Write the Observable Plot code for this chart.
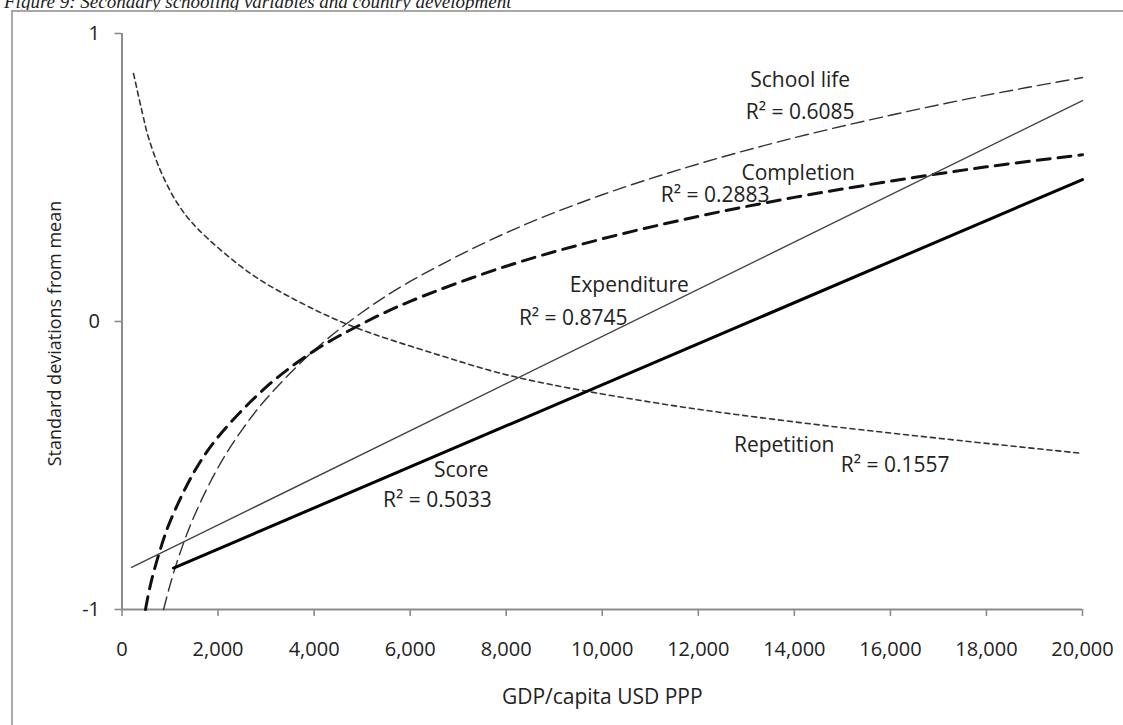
<!DOCTYPE html>
<html>
<head>
<meta charset="utf-8">
<script src="https://cdn.jsdelivr.net/npm/d3@7"></script>
<script src="https://cdn.jsdelivr.net/npm/@observablehq/plot@0.6"></script>
<style>
  html, body { margin: 0; padding: 0; background: #fff; }
  body { position: relative; width: 1123px; height: 725px; overflow: hidden; }
  #title { position: absolute; left: 4px; top: -8px; font-family: "Liberation Serif", "DejaVu Serif", serif; font-style: italic; font-size: 19px; line-height: 19px; color: #222; white-space: nowrap; }
  #frame { position: absolute; left: 11px; top: 10px; width: 1300px; height: 900px; border: 2px solid #a8a8a8; box-sizing: border-box; }
  #chart { position: absolute; left: 0; top: 0; }
</style>
</head>
<body>
<div id="title">Figure 9: Secondary schooling variables and country development</div>
<div id="frame"></div>
<div id="chart"></div>
<script>
// ---- data ----
const xTicks = [0, 2000, 4000, 6000, 8000, 10000, 12000, 14000, 16000, 18000, 20000];
const yTicks = [-1, 0, 1];

const schoolLifeGdp = [866, 1000, 1200, 1500, 2000, 2500, 3000, 4000, 5000, 6000, 8000, 10000, 12000, 14000, 16000, 18000, 20000];
const schoolLifeVal = [-1.0, -0.915, -0.808, -0.677, -0.507, -0.376, -0.269, -0.100, 0.032, 0.139, 0.308, 0.440, 0.547, 0.638, 0.716, 0.786, 0.847];

const completionGdp = [489, 600, 800, 1000, 1500, 2000, 3000, 4000, 5000, 6000, 8000, 10000, 12000, 14000, 16000, 18000, 20000];
const completionVal = [-1.0, -0.909, -0.790, -0.695, -0.523, -0.401, -0.228, -0.102, -0.008, 0.070, 0.192, 0.287, 0.365, 0.431, 0.487, 0.537, 0.579];

const repetitionGdp = [240, 427, 551, 801, 1155, 1571, 2674, 3715, 4756, 6628, 8230, 11207, 14120, 17034, 20000];
const repetitionVal = [0.861, 0.722, 0.639, 0.524, 0.410, 0.323, 0.167, 0.066, -0.014, -0.118, -0.194, -0.285, -0.351, -0.406, -0.458];

const expenditureGdp = [200, 20000];
const expenditureVal = [-0.854, 0.767];

const scoreGdp = [1072, 20000];
const scoreVal = [-0.856, 0.493];

const labelText = ["School life", "R² = 0.6085", "Completion", "R² = 0.2883", "Expenditure", "R² = 0.8745", "Score", "R² = 0.5033", "Repetition", "R² = 0.1557"];
const labelGdp  = [14121, 14121, 14080, 12352, 10562, 9396, 7066, 6566, 13788, 16098];
const labelVal  = [0.837, 0.726, 0.514, 0.438, 0.125, 0.010, -0.517, -0.622, -0.431, -0.500];

const xTitle = "GDP/capita USD PPP";
const yTitle = "Standard deviations from mean";

// ---- build tables ----
const toRows = (xs, ys) => xs.map((x, i) => ({x, y: ys[i]}));
const schoolLife = toRows(schoolLifeGdp, schoolLifeVal);
const completion = toRows(completionGdp, completionVal);
const repetition = toRows(repetitionGdp, repetitionVal);
const expenditure = toRows(expenditureGdp, expenditureVal);
const score = toRows(scoreGdp, scoreVal);
const labels = labelText.map((t, i) => ({t, x: labelGdp[i], y: labelVal[i]}));

const axisColor = "#8c8c8c";
const textColor = "#222";
const FS = 20;

const chart = Plot.plot({
  width: 1123,
  height: 725,
  marginLeft: 121.5,
  marginRight: 41,
  marginTop: 33,
  marginBottom: 116,
  style: {background: "transparent", fontFamily: "'Open Sans', 'Noto Sans', sans-serif", fontSize: FS + "px", color: textColor, overflow: "visible"},
  x: {domain: [0, 20000]},
  y: {domain: [-1, 1]},
  marks: [
    Plot.ruleX([0], {stroke: axisColor, strokeWidth: 2}),
    Plot.ruleY([-1], {stroke: axisColor, strokeWidth: 2}),
    Plot.axisX({ticks: xTicks, tickFormat: d3.format(","), tickSize: 7, tickPadding: 25, stroke: axisColor, strokeWidth: 1.6, fill: textColor, fontSize: FS, label: null}),
    Plot.axisY({ticks: yTicks, tickFormat: d => d3.format("d")(d).replace("−", "-"), tickSize: 7, tickPadding: 15, stroke: axisColor, strokeWidth: 1.6, fill: textColor, fontSize: FS, label: null}),
    Plot.line(repetition, {x: "x", y: "y", curve: "catmull-rom", stroke: "#333", strokeWidth: 1.6, strokeDasharray: "5,4"}),
    Plot.line(schoolLife, {x: "x", y: "y", curve: "catmull-rom", stroke: "#333", strokeWidth: 1.4, strokeDasharray: "13,6"}),
    Plot.line(completion, {x: "x", y: "y", curve: "catmull-rom", stroke: "#111", strokeWidth: 3, strokeDasharray: "13,8"}),
    Plot.line(expenditure, {x: "x", y: "y", stroke: "#444", strokeWidth: 1.4}),
    Plot.line(score, {x: "x", y: "y", stroke: "#000", strokeWidth: 3}),
    Plot.text(labels, {x: "x", y: "y", text: "t", fontSize: 21, fill: textColor, textAnchor: "middle", lineAnchor: "middle"}),
    Plot.text([xTitle], {frameAnchor: "bottom", dy: 88, fontSize: 21, fill: textColor, textAnchor: "middle", lineAnchor: "middle"}),
    Plot.text([yTitle], {frameAnchor: "left", dx: -66.5, dy: 12, rotate: -90, fontSize: 18, fill: textColor, textAnchor: "middle", lineAnchor: "middle"})
  ]
});
document.getElementById("chart").appendChild(chart);
</script>
</body>
</html>
